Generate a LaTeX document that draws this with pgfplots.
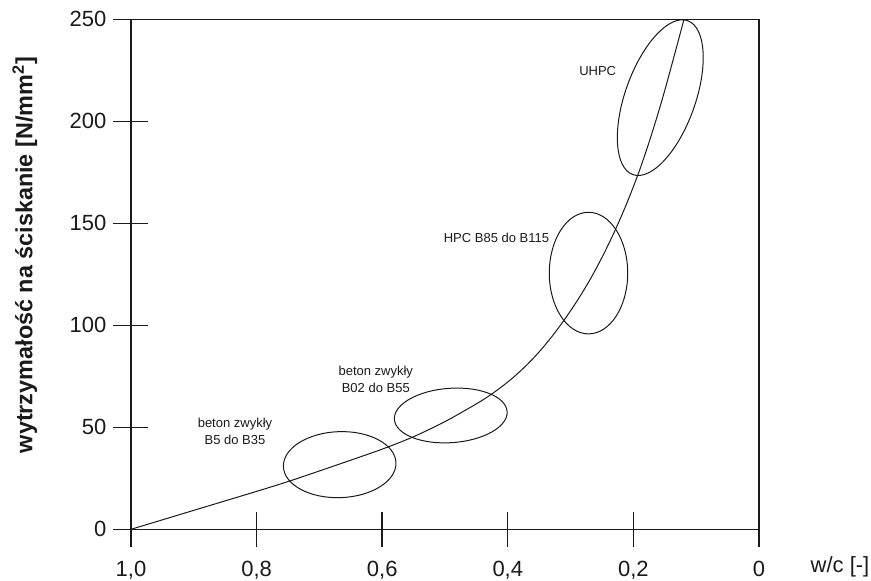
\documentclass[border=0pt]{standalone}
\usepackage{fontspec}
\setmainfont{Liberation Sans}
\usepackage{pgfplots}
\pgfplotsset{compat=1.18}
\usetikzlibrary{shapes.geometric}
\definecolor{ink}{HTML}{1A1A1A}
\begin{document}
\begin{tikzpicture}
\useasboundingbox (-65.5pt,-25.35pt) rectangle (370pt,264.65pt);
\begin{axis}[
  at={(0pt,0pt)}, anchor=south west,
  scale only axis, width=314pt, height=255pt,
  xmin=0, xmax=1, ymin=0, ymax=250, x dir=reverse,
  xtick={1,0.8,0.6,0.4,0.2,0},
  xticklabels={{1,0},{0,8},{0,6},{0,4},{0,2},{0}},
  ytick={0,50,100,150,200,250},
  tick align=center, major tick length=17.5pt,
  xtick pos=bottom, ytick pos=left,
  axis line style={ink, line width=0.6pt},
  every tick/.style={ink, line width=0.7pt},
  tick label style={font=\fontsize{11}{13}\selectfont, text=ink},
  xticklabel style={yshift=-3.5pt},
  /pgf/number format/assume math mode=true,
  xlabel={w/c [-]},
  ylabel={wytrzymałość na ściskanie [N/mm\textsuperscript{2}]},
  xlabel style={at={(axis description cs:1.129,-0.074)}, anchor=center, font=\fontsize{11}{13}\selectfont, text=ink},
  ylabel style={at={(axis description cs:-0.169,0.538)}, anchor=center, font=\bfseries\fontsize{11.7}{14}\selectfont, text=ink},
  clip=false,
]
\addplot[ink, line width=0.5pt, smooth, tension=0.5, no marks] coordinates {
(1.00,0) (0.90,9.3) (0.80,18.6) (0.75,23.4) (0.70,28.6) (0.65,33.9)
(0.60,39.3) (0.55,45.4) (0.50,52.8) (0.45,61.5) (0.43,65.4) (0.41,69.8)
(0.39,74.8) (0.37,80.5) (0.35,87.0) (0.33,94.4) (0.31,102.7) (0.29,111.8)
(0.27,121.9) (0.25,133.3) (0.23,146.0) (0.21,160.2) (0.19,176.2) (0.17,194.6)
(0.15,215.2) (0.1194,250)
};
\node[draw=ink, line width=0.5pt, ellipse, inner sep=0pt, minimum width=56.3pt, minimum height=33pt, rotate=2] at (axis cs:0.6677,31.7) {};
\node[draw=ink, line width=0.5pt, ellipse, inner sep=0pt, minimum width=56.5pt, minimum height=27.2pt, rotate=4] at (axis cs:0.4908,55.8) {};
\node[draw=ink, line width=0.5pt, ellipse, inner sep=0pt, minimum width=39.2pt, minimum height=60.8pt] at (axis cs:0.2715,125.6) {};
\node[draw=ink, line width=0.5pt, ellipse, inner sep=0pt, minimum width=81.7pt, minimum height=35.1pt, rotate=70.4] at (axis cs:0.1572,211.6) {};
\node[align=center, font=\fontsize{6.5}{8.5}\selectfont, text=ink] at (axis cs:0.8344,48.2) {beton zwykły\\B5 do B35};
\node[align=center, font=\fontsize{6.5}{8.5}\selectfont, text=ink] at (axis cs:0.6102,73.4) {beton zwykły\\B02 do B55};
\node[align=center, font=\fontsize{6.5}{8.5}\selectfont, text=ink] at (axis cs:0.418,143.0) {HPC B85 do B115};
\node[align=center, font=\fontsize{6.5}{8.5}\selectfont, text=ink] at (axis cs:0.2569,224.7) {UHPC};
\end{axis}
\end{tikzpicture}
\end{document}
